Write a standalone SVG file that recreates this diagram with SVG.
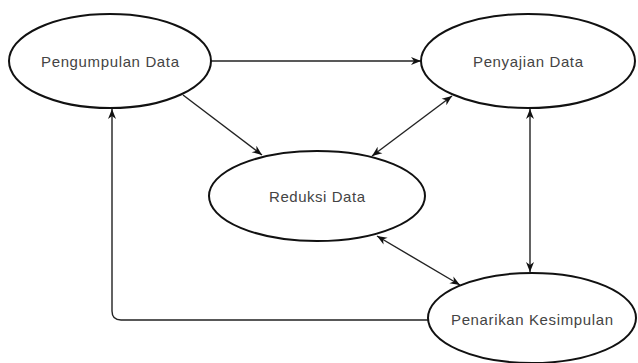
<svg xmlns="http://www.w3.org/2000/svg" width="638" height="363" viewBox="0 0 638 363">
<style>
.node ellipse{fill:#fff;stroke:#111;stroke-width:2}
.node text{font-family:"Liberation Sans",Arial,sans-serif;font-size:15px;fill:#444;text-anchor:middle;dominant-baseline:central}
.edges path{fill:none;stroke:#222;stroke-width:1.4}
</style>
<defs>
<marker id="ah" viewBox="0 0 10 10" refX="10" refY="5" markerWidth="10" markerHeight="10" markerUnits="userSpaceOnUse" orient="auto-start-reverse">
<path d="M0,1 L10,5 L0,9 L3,5 Z" fill="#111"/>
</marker>
</defs>
<rect width="638" height="363" fill="#fff"/>
<g class="edges">
<path d="M211,61 L421,61" marker-end="url(#ah)"/>
<path d="M183,95 L262,155" marker-end="url(#ah)"/>
<path d="M452,96 L372,156" marker-start="url(#ah)" marker-end="url(#ah)"/>
<path d="M530,109 L530,272" marker-start="url(#ah)" marker-end="url(#ah)"/>
<path d="M377,236 L460,285" marker-start="url(#ah)" marker-end="url(#ah)"/>
<path d="M428,320 L121,320 Q112,320 112,311 L112,109" marker-end="url(#ah)"/>
</g>
<g id="pengumpulan" class="node">
<ellipse cx="110" cy="61" rx="101" ry="47"/>
<text x="110" y="61" textLength="138" lengthAdjust="spacing">Pengumpulan Data</text>
</g>
<g id="penyajian" class="node">
<ellipse cx="528" cy="61" rx="107" ry="47"/>
<text x="528" y="61" textLength="110" lengthAdjust="spacing">Penyajian Data</text>
</g>
<g id="reduksi" class="node">
<ellipse cx="317" cy="196" rx="108" ry="45"/>
<text x="317" y="196" textLength="96" lengthAdjust="spacing">Reduksi Data</text>
</g>
<g id="penarikan" class="node">
<ellipse cx="532" cy="318" rx="104" ry="45"/>
<text x="532" y="319" textLength="162" lengthAdjust="spacing">Penarikan Kesimpulan</text>
</g>
</svg>
